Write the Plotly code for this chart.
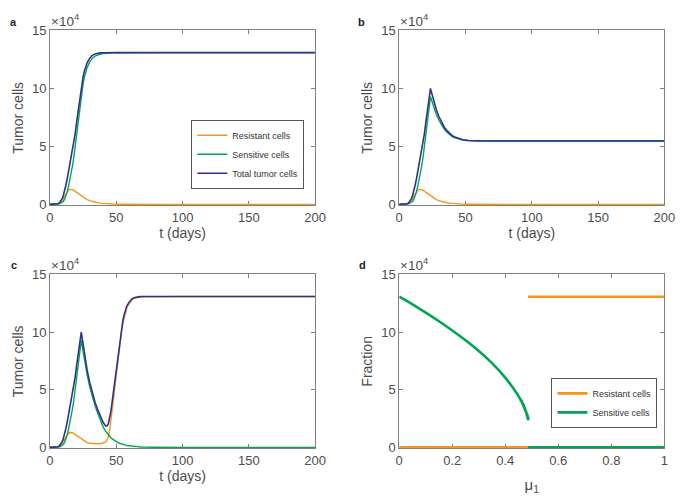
import plotly.graph_objects as go

# ---------------- data (cells in units of 10^4) ----------------
# common growth phase, shared by panels a, b, c (t = 0 ... 23 days)
t_pre = [0, 2, 4, 6, 7, 8, 9, 10, 11, 12, 13, 14, 15, 16, 17, 18, 19, 20, 21, 22, 23]
res_pre = [0, 0, 0, 0.02, 0.06, 0.15, 0.3, 0.5, 0.72, 0.93, 1.1, 1.22, 1.29, 1.3, 1.27,
           1.2, 1.12, 1.03, 0.94, 0.85, 0.76]
sen_pre = [0, 0, 0.01, 0.03, 0.06, 0.1, 0.15, 0.25, 0.43, 0.72, 1.1, 1.58, 2.11, 2.7, 3.33,
           4.1, 4.98, 5.97, 6.96, 7.95, 8.94]
tot_pre = [0, 0, 0.01, 0.05, 0.12, 0.25, 0.45, 0.75, 1.15, 1.65, 2.2, 2.8, 3.4, 4.0, 4.6,
           5.3, 6.1, 7.0, 7.9, 8.8, 9.7]

# panel a: continuation without treatment
t_a = [24, 25, 26, 27, 28, 30, 32, 34, 36, 38, 40, 42, 45, 48, 52, 56, 60, 80, 120, 160, 200]
res_a = [0.68, 0.6, 0.53, 0.47, 0.41, 0.32, 0.25, 0.19, 0.14, 0.11, 0.08, 0.06, 0.04, 0.02,
         0.01, 0, 0, 0, 0, 0, 0]
sen_a = [9.72, 10.4, 10.97, 11.43, 11.79, 12.28, 12.6, 12.78, 12.89, 12.95, 12.99, 13.02,
         13.04, 13.06, 13.07, 13.08, 13.08, 13.08, 13.08, 13.08, 13.08]
tot_a = [10.4, 11.0, 11.5, 11.9, 12.2, 12.6, 12.85, 12.97, 13.03, 13.06, 13.07, 13.08,
         13.08, 13.08, 13.08, 13.08, 13.08, 13.08, 13.08, 13.08, 13.08]

# panel b
t_b = [23.6, 24, 25, 26, 27, 28, 30, 32, 34, 36, 38, 40, 42, 45, 48, 52, 56, 60, 70, 80,
       120, 160, 200]
res_b = [0.71, 0.68, 0.6, 0.53, 0.47, 0.41, 0.32, 0.25, 0.19, 0.14, 0.11, 0.08, 0.06, 0.04,
         0.02, 0.01, 0, 0, 0, 0, 0, 0, 0]
sen_b = [9.29, 9.12, 8.75, 8.37, 8.03, 7.74, 7.23, 6.8, 6.46, 6.21, 5.99, 5.84, 5.74, 5.62,
         5.55, 5.5, 5.48, 5.47, 5.46, 5.46, 5.46, 5.46, 5.46]
tot_b = [10.0, 9.8, 9.35, 8.9, 8.5, 8.15, 7.55, 7.05, 6.65, 6.35, 6.1, 5.92, 5.8, 5.66,
         5.57, 5.51, 5.48, 5.47, 5.46, 5.46, 5.46, 5.46, 5.46]

# panel c
t_c = [23.6, 24, 25, 26, 27, 28, 30, 32, 34, 36, 38, 40, 42, 43, 44, 45, 46, 47, 48, 49,
       50, 51, 52, 53, 54, 55, 56, 57, 58, 60, 62, 64, 66, 68, 70, 75, 80, 100, 120, 160, 200]
res_c = [0.71, 0.68, 0.6, 0.53, 0.47, 0.42, 0.36, 0.33, 0.32, 0.32, 0.34, 0.38, 0.46, 0.62,
         0.95, 1.5, 2.3, 3.3, 4.3, 5.3, 6.3, 7.4, 8.4, 9.3, 10.1, 10.75, 11.3, 11.75, 12.1,
         12.5, 12.8, 12.92, 12.99, 13.03, 13.05, 13.065, 13.07, 13.08, 13.08, 13.08, 13.08]
sen_c = [9.29, 9.0, 8.25, 7.55, 6.9, 6.3, 5.25, 4.35, 3.6, 2.95, 2.35, 1.8, 1.4, 1.24, 1.08,
         0.96, 0.84, 0.74, 0.65, 0.57, 0.5, 0.44, 0.38, 0.33, 0.3, 0.26, 0.23, 0.2, 0.17,
         0.13, 0.1, 0.08, 0.065, 0.04, 0.03, 0.015, 0.01, 0, 0, 0, 0]
tot_c = [10.0, 9.68, 8.85, 8.08, 7.37, 6.72, 5.61, 4.68, 3.92, 3.27, 2.69, 2.18, 1.86, 1.86,
         2.03, 2.46, 3.14, 4.04, 4.95, 5.87, 6.8, 7.84, 8.78, 9.63, 10.4, 11.01, 11.53,
         11.95, 12.27, 12.63, 12.9, 13.0, 13.055, 13.07, 13.08, 13.08, 13.08, 13.08, 13.08,
         13.08, 13.08]

# panel d: steady states versus mu_1
mu_sens = [0, 0.05, 0.1, 0.15, 0.2, 0.25, 0.3, 0.35, 0.4, 0.42, 0.44, 0.45, 0.46, 0.466,
           0.469, 0.472, 0.475, 0.478, 0.481, 0.483, 0.485, 0.486]
sens_branch = [13.06, 12.4, 11.68, 10.93, 10.13, 9.28, 8.35, 7.3, 6.05, 5.45, 4.8, 4.45,
               4.05, 3.78, 3.62, 3.46, 3.28, 3.1, 2.9, 2.76, 2.6, 2.47]
mu_low = [0, 0.486]
res_low = [0, 0]
mu_high = [0.486, 1]
res_high = [13.06, 13.06]
sens_high = [0, 0]

x_ticks_t = [0, 50, 100, 150, 200]
x_ticks_mu = [0, 0.2, 0.4, 0.6, 0.8, 1]
x_ticktext_mu = ["0", "0.2", "0.4", "0.6", "0.8", "1"]
y_ticks = [0, 5, 10, 15]

C_RES = "#F7931E"
C_SEN = "#00A651"
C_TOT = "#2E3192"

# ---------------- figure ----------------
fig = go.Figure()

def add_panel(t, r, s, tot, xa, ya, show):
    fig.add_trace(go.Scatter(x=t, y=r, mode="lines", name="Resistant cells",
                             line=dict(color=C_RES, width=1.4), xaxis=xa, yaxis=ya,
                             showlegend=show, legend="legend"))
    fig.add_trace(go.Scatter(x=t, y=s, mode="lines", name="Sensitive cells",
                             line=dict(color=C_SEN, width=1.4), xaxis=xa, yaxis=ya,
                             showlegend=show, legend="legend"))
    fig.add_trace(go.Scatter(x=t, y=tot, mode="lines", name="Total tumor cells",
                             line=dict(color=C_TOT, width=1.6), xaxis=xa, yaxis=ya,
                             showlegend=show, legend="legend"))

add_panel(t_pre + t_a, res_pre + res_a, sen_pre + sen_a, tot_pre + tot_a, "x", "y", True)
add_panel(t_pre + t_b, res_pre + res_b, sen_pre + sen_b, tot_pre + tot_b, "x2", "y2", False)
add_panel(t_pre + t_c, res_pre + res_c, sen_pre + sen_c, tot_pre + tot_c, "x3", "y3", False)

# panel d
n_line = 15
fig.add_trace(go.Scatter(x=mu_low, y=res_low, mode="lines", name="Resistant cells",
                         line=dict(color=C_RES, width=2.6), xaxis="x4", yaxis="y4",
                         legend="legend2", showlegend=True))
fig.add_trace(go.Scatter(x=mu_high, y=res_high, mode="lines", name="Resistant cells",
                         line=dict(color=C_RES, width=2.6), xaxis="x4", yaxis="y4",
                         legend="legend2", showlegend=False))
fig.add_trace(go.Scatter(x=mu_sens[:n_line], y=sens_branch[:n_line], mode="lines",
                         name="Sensitive cells", line=dict(color=C_SEN, width=2.6, shape="spline"),
                         xaxis="x4", yaxis="y4", legend="legend2", showlegend=True))
fig.add_trace(go.Scatter(x=mu_sens[n_line - 3:], y=sens_branch[n_line - 3:], mode="markers",
                         name="Sensitive cells", marker=dict(color=C_SEN, size=3.2),
                         xaxis="x4", yaxis="y4", legend="legend2", showlegend=False))
fig.add_trace(go.Scatter(x=mu_high, y=sens_high, mode="lines", name="Sensitive cells",
                         line=dict(color=C_SEN, width=2.6), xaxis="x4", yaxis="y4",
                         legend="legend2", showlegend=False))

W, H = 691, 502
FONT = "Liberation Sans, Arial, Helvetica, sans-serif"
AX_COL = "#808080"
TXT_COL = "#4d4d4d"

def xax(domain, anchor, title, tickvals, ticktext=None, rng=(0, 200), standoff=3, tsize=14):
    d = dict(domain=domain, anchor=anchor, range=list(rng), tickvals=tickvals,
             showline=True, mirror="ticks", linecolor=AX_COL, linewidth=1,
             ticks="inside", ticklen=4, tickcolor=AX_COL, showgrid=False, zeroline=False,
             tickfont=dict(size=13, color=TXT_COL, family=FONT), layer="below traces",
             title=dict(text=title, font=dict(size=tsize, color=TXT_COL, family=FONT),
                        standoff=standoff))
    if ticktext is not None:
        d["ticktext"] = ticktext
    return d

def yax(domain, anchor, title):
    return dict(domain=domain, anchor=anchor, range=[-0.08, 15], tickvals=y_ticks,
                showline=True, mirror="ticks", linecolor=AX_COL, linewidth=1,
                ticks="inside", ticklen=4, tickcolor=AX_COL, showgrid=False, zeroline=False,
                tickfont=dict(size=13, color=TXT_COL, family=FONT), layer="below traces",
                title=dict(text=title, font=dict(size=14, color=TXT_COL, family=FONT), standoff=5))

xl = [47 / W, 318 / W]
xr = [404 / W, 675 / W]
yt = [1 - 204 / H, 1 - 24 / H]
yb = [1 - 454 / H, 1 - 275 / H]

annotations = []
for lab, px, py in [("a", 10, 15), ("b", 365, 15), ("c", 10, 265), ("d", 366, 265)]:
    annotations.append(dict(text="<b>%s</b>" % lab, x=px / W, y=1 - py / H, xref="paper",
                            yref="paper", xanchor="center", yanchor="middle", showarrow=False,
                            font=dict(size=11, color="#222", family=FONT)))
for px, py in [(46, 25), (403, 25), (46, 276), (403, 276)]:
    annotations.append(dict(text="×10<sup>4</sup>", x=px / W, y=1 - py / H, xref="paper",
                            yref="paper", xanchor="left", yanchor="bottom", showarrow=False,
                            font=dict(size=13.5, color=TXT_COL, family=FONT)))

legend_style = dict(font=dict(size=9, color="#333", family=FONT), bgcolor="white",
                    bordercolor="#555", borderwidth=1, xref="paper", yref="paper",
                    xanchor="right", yanchor="bottom", tracegroupgap=0, itemwidth=30)

fig.update_layout(
    width=W, height=H, margin=dict(l=0, r=0, t=0, b=0),
    paper_bgcolor="white", plot_bgcolor="white",
    font=dict(family=FONT, color=TXT_COL),
    xaxis=xax(xl, "y", "t (days)", x_ticks_t),
    yaxis=yax(yt, "x", "Tumor cells"),
    xaxis2=xax(xr, "y2", "t (days)", x_ticks_t),
    yaxis2=yax(yt, "x2", "Tumor cells"),
    xaxis3=xax(xl, "y3", "t (days)", x_ticks_t),
    yaxis3=yax(yb, "x3", "Tumor cells"),
    xaxis4=xax(xr, "y4", "μ<sub>1</sub>", x_ticks_mu, x_ticktext_mu, rng=(0, 1),
               standoff=12, tsize=15),
    yaxis4=yax(yb, "x4", "Fraction"),
    legend=dict(legend_style, x=307 / W, y=1 - 187 / H),
    legend2=dict(legend_style, x=668 / W, y=1 - 433 / H),
    annotations=annotations,
)

fig.write_html("out.html")
